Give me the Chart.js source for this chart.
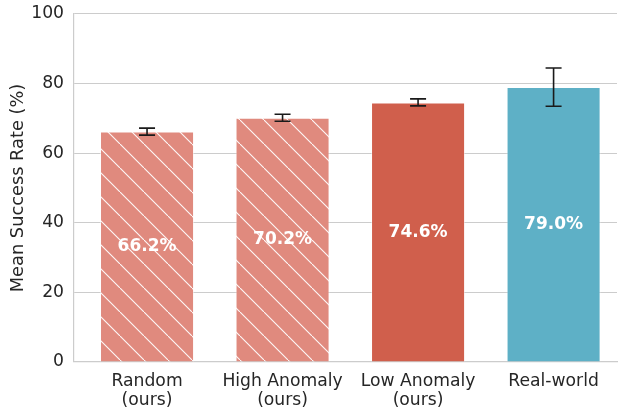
<!DOCTYPE html>
<html>
<head>
<meta charset="utf-8">
<script src="https://cdn.jsdelivr.net/npm/chart.js@4.4.1/dist/chart.umd.min.js"></script>
<style>
  html, body { margin: 0; padding: 0; background: #ffffff; }
  #wrap { width: 618px; height: 408px; position: relative; }
</style>
</head>
<body>
<div id="wrap"><canvas id="chart" width="618" height="408"></canvas></div>
<script>
// Data
const categories = ['Random', 'High Anomaly', 'Low Anomaly', 'Real-world'];
const tickLabels = [['Random', '(ours)'], ['High Anomaly', '(ours)'], ['Low Anomaly', '(ours)'], ['Real-world']];
const successRate = [66.2, 70.2, 74.6, 79.0];
const errorMargin = [1.0, 1.0, 1.0, 5.5];
const hatched = [true, true, false, false];
const yTicks = [0, 20, 40, 60, 80, 100];

// Styling
const barColors = ['#E08A7E', '#E08A7E', '#D05F4C', '#5EB0C6'];
const textColor = '#262626';
const gridColor = '#cccccc';
const FONT = 'DejaVu Sans';

Chart.defaults.font.family = FONT;
Chart.defaults.color = textColor;

function hatchPattern(fill) {
  const s = 24.5;
  const c = document.createElement('canvas');
  c.width = s; c.height = s;
  const g = c.getContext('2d');
  g.fillStyle = fill;
  g.fillRect(0, 0, s, s);
  g.strokeStyle = 'rgba(255,255,255,0.95)';
  g.lineWidth = 1.1;
  for (const k of [-s, 0, s]) {
    g.beginPath();
    g.moveTo(k, 0);
    g.lineTo(k + s, s);
    g.stroke();
  }
  return g.createPattern(c, 'repeat');
}

const fills = barColors.map((col, i) => hatched[i] ? hatchPattern(col) : col);

// Error bars and in-bar value labels
const overlay = {
  id: 'overlay',
  afterDatasetsDraw(chart) {
    const ctx = chart.ctx;
    const xs = chart.scales.x, ys = chart.scales.y;
    ctx.save();
    ctx.strokeStyle = '#1a1a1a';
    ctx.lineWidth = 1.6;
    successRate.forEach((v, i) => {
      const x = xs.getPixelForValue(i);
      const top = ys.getPixelForValue(v + errorMargin[i]);
      const bot = ys.getPixelForValue(v - errorMargin[i]);
      const cap = 8;
      ctx.beginPath();
      ctx.moveTo(x, top); ctx.lineTo(x, bot);
      ctx.moveTo(x - cap, top); ctx.lineTo(x + cap, top);
      ctx.moveTo(x - cap, bot); ctx.lineTo(x + cap, bot);
      ctx.stroke();
    });
    ctx.fillStyle = '#ffffff';
    ctx.font = 'bold 17px ' + FONT;
    ctx.textAlign = 'center';
    ctx.textBaseline = 'middle';
    successRate.forEach((v, i) => {
      const x = xs.getPixelForValue(i);
      const y = ys.getPixelForValue(v / 2);
      ctx.fillText(v.toFixed(1) + '%', x, y);
    });
    ctx.restore();
  }
};

new Chart(document.getElementById('chart'), {
  type: 'bar',
  data: {
    datasets: [{
      data: successRate.map((v, i) => ({ x: i, y: v })),
      backgroundColor: fills,
      borderColor: 'rgba(255,255,255,0.5)',
      borderWidth: 1,
      barPercentage: 0.694,
      categoryPercentage: 1.0
    }]
  },
  options: {
    responsive: false,
    animation: false,
    events: [],
    layout: { padding: { top: 14, right: 1, left: 0, bottom: 0 } },
    plugins: { legend: { display: false }, tooltip: { enabled: false } },
    scales: {
      x: {
        type: 'linear',
        offset: false,
        min: -0.539,
        max: 3.468,
        grid: { display: false, offset: false },
        border: { color: gridColor, width: 1.2 },
        afterBuildTicks(scale) { scale.ticks = categories.map((_, i) => ({ value: i })); },
        afterFit(scale) { scale.height = 46; scale.paddingLeft = 0; scale.paddingRight = 0; },
        ticks: {
          autoSkip: false,
          maxRotation: 0,
          padding: 2,
          color: textColor,
          font: { size: 17.2, lineHeight: 1.12 },
          callback: (value) => tickLabels[value]
        }
      },
      y: {
        min: 0,
        max: 100,
        afterBuildTicks(scale) { scale.ticks = yTicks.map(v => ({ value: v })); },
        afterFit(scale) { scale.width = 74; scale.paddingTop = 0; scale.paddingBottom = 0; },
        grid: { color: gridColor, lineWidth: 1.1, drawTicks: false },
        border: { color: gridColor, width: 1.2 },
        ticks: { padding: 10, color: textColor, font: { size: 17.2 } },
        title: {
          display: true,
          text: 'Mean Success Rate (%)',
          color: textColor,
          font: { size: 17.8 },
          padding: { top: 8, bottom: 0 }
        }
      }
    }
  },
  plugins: [overlay]
});
</script>
</body>
</html>
